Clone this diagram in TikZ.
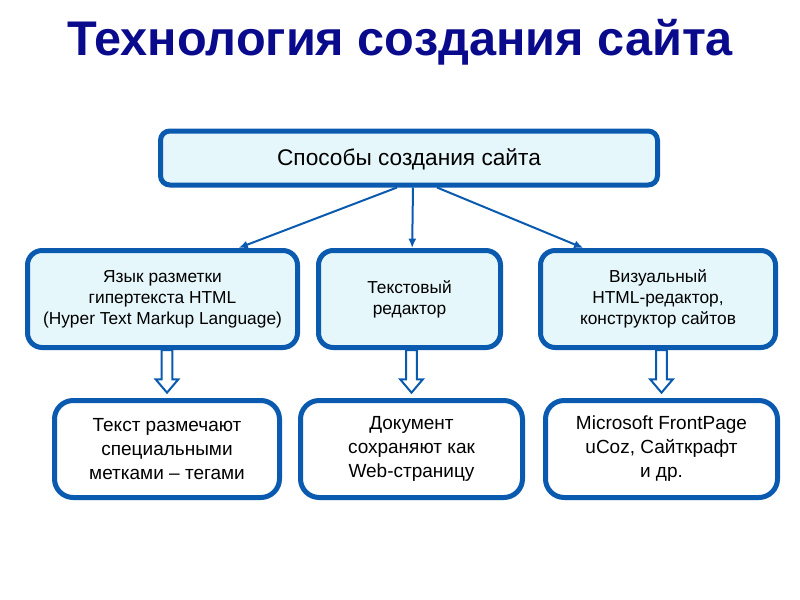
\documentclass[tikz,border=0pt]{standalone}
\usepackage{fontspec}
\setmainfont{Liberation Sans}
\usepackage{xcolor}
\usetikzlibrary{arrows.meta, calc}

\definecolor{boxblue}{RGB}{10,90,175}
\definecolor{boxfill}{RGB}{230,247,251}
\definecolor{titleblue}{RGB}{10,10,140}

\begin{document}
\begin{tikzpicture}[
  x=0.75pt, y=-0.75pt,
  head/.style={rectangle, draw=boxblue, line width=3.75pt, rounded corners=7pt, fill=boxfill, minimum width=372.75pt, minimum height=40.5pt, align=center, font=\fontsize{17}{20}\selectfont, inner sep=2pt, text depth=2pt},
  method/.style={rectangle, draw=boxblue, line width=3.75pt, rounded corners=11pt, fill=boxfill, minimum height=72.75pt, align=center, font=\fontsize{13}{15.75}\selectfont, inner sep=2pt},
  result/.style={rectangle, draw=boxblue, line width=3.75pt, rounded corners=14pt, fill=white, minimum height=72.75pt, align=center, font=\fontsize{14.25}{18}\selectfont, inner sep=2pt},
  arr/.style={-{Latex[length=7pt, width=6pt]}, line width=1.5pt, draw=boxblue},
  fat/.style={draw=boxblue, fill=white, line width=1.5pt, line join=miter}
]
\useasboundingbox (0,0) rectangle (800,600);

\node[font=\fontsize{36.5}{40}\selectfont\bfseries, text=titleblue] (title) at (400,42) {Технология создания сайта};

\node[head] (top) at (409,158) {Способы создания сайта};

\node[method, minimum width=202.5pt] (m1) at (162.5,299) {Язык разметки\\гипертекста HTML\\(Hyper Text Markup Language)};
\node[method, minimum width=136.5pt] (m2) at (409.5,299) {Текстовый\\редактор};
\node[method, minimum width=176.25pt] (m3) at (658,299) {Визуальный\\HTML-редактор,\\конструктор сайтов};

\node[result, minimum width=168.75pt] (b1) at (167,449) {Текст размечают\\специальными\\метками -- тегами};
\node[result, minimum width=166.5pt] (b2) at (411.5,449) {Документ\\сохраняют как\\Web-страницу};
\node[result, minimum width=174pt] (b3) at (661.5,449) {Microsoft FrontPage\\uCoz, Сайткрафт\\и др.};

% thin arrows from the top box
\draw[arr] ($(top.south)+(-9pt,0)$) -- ($(m1.north)+(57pt,0)$);
\draw[arr] ($(top.south)+(3pt,0)$) -- ($(m2.north)+(2pt,0)$);
\draw[arr] ($(top.south)+(21pt,0)$) -- ($(m3.north)+(-56pt,0)$);

% hollow arrows down to the examples
\foreach \a/\b in {m1/b1, m2/b2, m3/b3}
  \draw[fat] let \p1=(\a.south), \p2=(\b.north) in
    (\x2-4pt,\y1) -- (\x2-4pt,\y2+14pt) -- (\x2-8.5pt,\y2+14pt) -- (\x2,\y2+4pt)
    -- (\x2+8.5pt,\y2+14pt) -- (\x2+4pt,\y2+14pt) -- (\x2+4pt,\y1) -- cycle;
\end{tikzpicture}
\end{document}
